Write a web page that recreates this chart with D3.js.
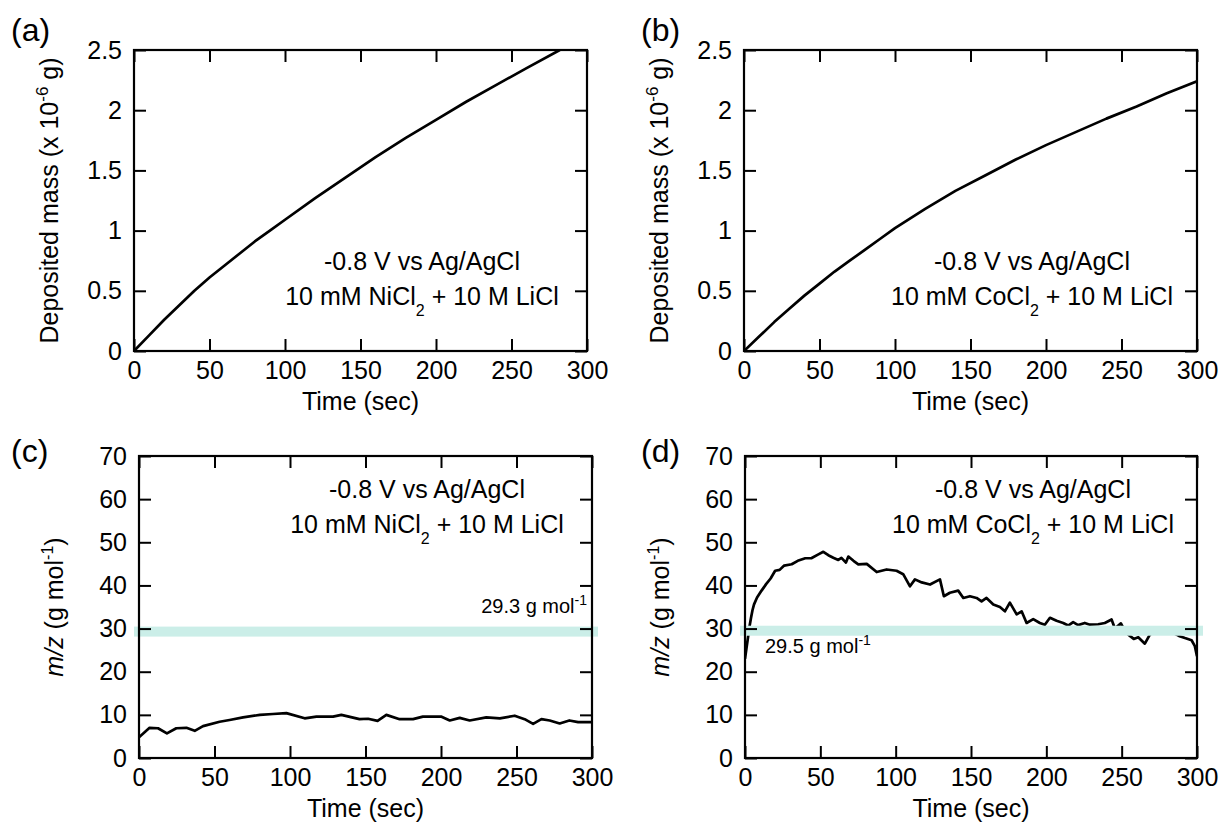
<!DOCTYPE html>
<html><head><meta charset="utf-8">
<script src="https://cdn.jsdelivr.net/npm/d3@7"></script>
<style>
body{margin:0;background:#fff}
svg text{font-family:"Liberation Sans",Arial,Helvetica,sans-serif;fill:#000}
</style>
</head><body>
<svg id="fig" width="1221" height="823"></svg>
<script>
// ---------------- data ----------------
const timeTicks = [0, 50, 100, 150, 200, 250, 300];
const massTicks = [0, 0.5, 1, 1.5, 2, 2.5];
const mzTicks = [0, 10, 20, 30, 40, 50, 60, 70];

// (a) Ni deposited mass (x1e-6 g)
const timeA = [0, 10, 20, 30, 40, 50, 60, 70, 80, 90, 100, 120, 140, 160, 180, 200, 220, 240, 260, 282];
const massA = [0, 0.13, 0.26, 0.38, 0.50, 0.61, 0.71, 0.81, 0.91, 1.00, 1.09, 1.27, 1.44, 1.61, 1.77, 1.92, 2.07, 2.21, 2.35, 2.50];

// (b) Co deposited mass (x1e-6 g)
const timeB = [0, 10, 20, 30, 40, 50, 60, 70, 80, 90, 100, 120, 140, 160, 180, 200, 220, 240, 260, 280, 300];
const massB = [0, 0.12, 0.24, 0.35, 0.46, 0.56, 0.66, 0.75, 0.84, 0.93, 1.02, 1.18, 1.33, 1.46, 1.59, 1.71, 1.82, 1.93, 2.03, 2.14, 2.24];

// (c) Ni m/z (g/mol)
const timeC = [0, 7, 12.6, 18.5, 24.7, 31.4, 36.9, 42.4, 53.4, 60, 68.9, 80, 88.7, 97.6, 109.7, 117.5, 128.5, 134, 146, 151.7, 158, 163.8, 172.6, 181.5, 188, 200, 205.8, 212.4, 219, 230, 239, 248.8, 255.4, 261, 266.5, 272, 278.6, 285, 290.8, 300];
const mzC = [4.8, 7.0, 6.9, 5.7, 6.9, 7.0, 6.3, 7.4, 8.4, 8.8, 9.4, 10.0, 10.2, 10.4, 9.2, 9.6, 9.6, 10.0, 9.0, 9.1, 8.6, 10.0, 9.0, 9.0, 9.6, 9.6, 8.7, 9.3, 8.7, 9.4, 9.2, 9.8, 9.0, 7.9, 9.0, 8.7, 8.0, 8.7, 8.3, 8.3];

// (d) Co m/z (g/mol)
const timeD = [0, 1, 2, 3, 4, 5, 6, 8, 11, 14, 17, 20, 23, 26, 31, 35, 40, 44, 48.7, 52, 55.3, 58.6, 61.9, 64, 67, 68.6, 72, 75.2, 80.8, 87.4, 94, 100.6, 105, 109.5, 112.8, 117.3, 122.8, 129.4, 132, 136, 141.5, 144.9, 149.3, 153.7, 157, 160.3, 164.8, 169.2, 172.5, 175.8, 180.3, 183.6, 186.9, 191.3, 195.7, 199, 202.4, 206.8, 211.2, 214.5, 217.8, 221.1, 225.5, 228.9, 234.4, 238.8, 243.3, 245.5, 249.5, 252, 254.4, 258, 261, 265.4, 268.7, 272, 276, 280, 284, 288, 292, 296.4, 298.5, 300];
const mzD = [23.0, 25.5, 28.0, 30.5, 32.5, 34.3, 35.6, 37.2, 38.8, 40.3, 41.6, 43.4, 43.6, 44.6, 44.9, 45.7, 46.3, 46.3, 47.2, 47.8, 47.0, 46.4, 45.9, 46.4, 45.3, 46.7, 45.7, 44.9, 45.0, 43.1, 43.7, 43.4, 42.6, 39.8, 41.4, 40.7, 40.2, 41.4, 37.5, 38.3, 38.8, 37.1, 37.5, 37.1, 36.3, 37.1, 35.6, 35.0, 34.0, 36.0, 33.3, 34.0, 31.3, 32.2, 31.3, 30.9, 32.5, 31.8, 31.3, 30.7, 31.5, 30.8, 31.3, 30.9, 31.0, 31.3, 32.1, 30.0, 31.2, 29.5, 28.6, 27.6, 28.0, 26.5, 28.6, 29.3, 28.9, 29.6, 29.0, 28.3, 27.8, 27.3, 26.0, 23.6];

const bandValues = [29.3, 29.5];
const bandLabels = ["29.3 g mol", "29.5 g mol"];
const panelLabels = ["(a)", "(b)", "(c)", "(d)"];
const saltLabels = ["NiCl", "CoCl", "NiCl", "CoCl"];

// ---------------- drawing ----------------
const svg = d3.select("#fig");
const FONT = 25;

const panels = [
  {lab: panelLabels[0], x0: 134, y0: 50, w: 453, h: 301, t: timeA, v: massA, dom: [0, 2.5], ticks: massTicks, kind: "mass", salt: saltLabels[0]},
  {lab: panelLabels[1], x0: 744, y0: 50, w: 453, h: 301, t: timeB, v: massB, dom: [0, 2.5], ticks: massTicks, kind: "mass", salt: saltLabels[1]},
  {lab: panelLabels[2], x0: 139, y0: 456, w: 453, h: 302, t: timeC, v: mzC, dom: [0, 70], ticks: mzTicks, kind: "mz", salt: saltLabels[2], band: bandValues[0], bandLab: bandLabels[0]},
  {lab: panelLabels[3], x0: 745, y0: 456, w: 452, h: 302, t: timeD, v: mzD, dom: [0, 70], ticks: mzTicks, kind: "mz", salt: saltLabels[3], band: bandValues[1], bandLab: bandLabels[1]}
];

panels.forEach((p, i) => {
  const g = svg.append("g").attr("transform", `translate(${p.x0},${p.y0})`);
  const x = d3.scaleLinear().domain([0, 300]).range([0, p.w]);
  const y = d3.scaleLinear().domain(p.dom).range([p.h, 0]);

  const clipId = "clip" + i;
  g.append("clipPath").attr("id", clipId).append("rect")
    .attr("x", 0).attr("y", 0).attr("width", p.w).attr("height", p.h);

  // data line
  const pts = p.t.map((t, k) => [t, p.v[k]]);
  g.append("path").datum(pts)
    .attr("clip-path", `url(#${clipId})`)
    .attr("fill", "none").attr("stroke", "#000").attr("stroke-width", 2.7)
    .attr("stroke-linejoin", "round")
    .attr("d", d3.line().x(d => x(d[0])).y(d => y(d[1])));

  // reference band
  if (p.band !== undefined) {
    const bh = 10;
    g.append("rect")
      .attr("x", -5).attr("width", p.w + 11)
      .attr("y", y(p.band) - bh / 2).attr("height", bh)
      .attr("fill", "#cbeee8");
  }

  // axes (ticks inside, mirrored)
  const styleAxis = sel => {
    sel.select(".domain").remove();
    sel.selectAll(".tick line").attr("stroke", "#000").attr("stroke-width", 2);
    sel.selectAll("text").attr("font-size", FONT).attr("fill", "#000");
    sel.attr("font-family", null).attr("font-size", null);
  };
  g.append("g").attr("transform", `translate(0,${p.h})`)
    .call(d3.axisBottom(x).tickValues(timeTicks).tickFormat(d => String(d)).tickSize(-12).tickPadding(10))
    .call(styleAxis);
  g.append("g")
    .call(d3.axisTop(x).tickValues(timeTicks).tickFormat("").tickSize(-12))
    .call(styleAxis);
  g.append("g")
    .call(d3.axisLeft(y).tickValues(p.ticks).tickFormat(d => String(d)).tickSize(-12).tickPadding(12))
    .call(styleAxis);
  g.append("g").attr("transform", `translate(${p.w},0)`)
    .call(d3.axisRight(y).tickValues(p.ticks).tickFormat("").tickSize(-12))
    .call(styleAxis);

  // frame
  g.append("rect").attr("x", 0).attr("y", 0).attr("width", p.w).attr("height", p.h)
    .attr("fill", "none").attr("stroke", "#000").attr("stroke-width", 2.2);

  // band label
  if (p.band !== undefined) {
    const bt = g.append("text").attr("font-size", 20);
    if (i === 2) {
      bt.attr("x", p.w - 5).attr("y", y(p.band) - 19).attr("text-anchor", "end");
    } else {
      bt.attr("x", 20).attr("y", y(p.band) + 22);
    }
    bt.append("tspan").text(p.bandLab);
    bt.append("tspan").attr("font-size", 14).attr("dy", -8).text("-1");
  }

  // annotations
  const cx = 288;
  const l1 = p.kind === "mass" ? 220 : 42;
  g.append("text").attr("x", cx).attr("y", l1).attr("text-anchor", "middle")
    .attr("font-size", FONT).text("-0.8 V vs Ag/AgCl");
  const t2 = g.append("text").attr("x", cx).attr("y", l1 + 35).attr("text-anchor", "middle")
    .attr("font-size", FONT);
  t2.append("tspan").text("10 mM " + p.salt);
  t2.append("tspan").attr("font-size", 16).attr("dy", 11).text("2");
  t2.append("tspan").attr("dy", -11).text(" + 10 M LiCl");

  // x title
  g.append("text").attr("x", p.w / 2).attr("y", p.h + 59).attr("text-anchor", "middle")
    .attr("font-size", FONT).text("Time (sec)");

  // y title
  const yt = g.append("text")
    .attr("transform", `translate(-76,${p.h / 2}) rotate(-90)`)
    .attr("text-anchor", "middle").attr("font-size", FONT);
  if (p.kind === "mass") {
    yt.append("tspan").text("Deposited mass (x 10");
    yt.append("tspan").attr("font-size", 17).attr("dy", -10).text("-6");
    yt.append("tspan").attr("dy", 10).text(" g)");
  } else {
    yt.append("tspan").attr("font-style", "italic").text("m/z");
    yt.append("tspan").text(" (g mol");
    yt.append("tspan").attr("font-size", 16).attr("dy", -10).text("-1");
    yt.append("tspan").attr("dy", 10).text(")");
  }

  // panel label
  svg.append("text")
    .attr("x", i % 2 === 0 ? 11 : 641)
    .attr("y", i < 2 ? 41 : 462)
    .attr("font-size", 32).text(p.lab);
});
</script>
</body></html>
